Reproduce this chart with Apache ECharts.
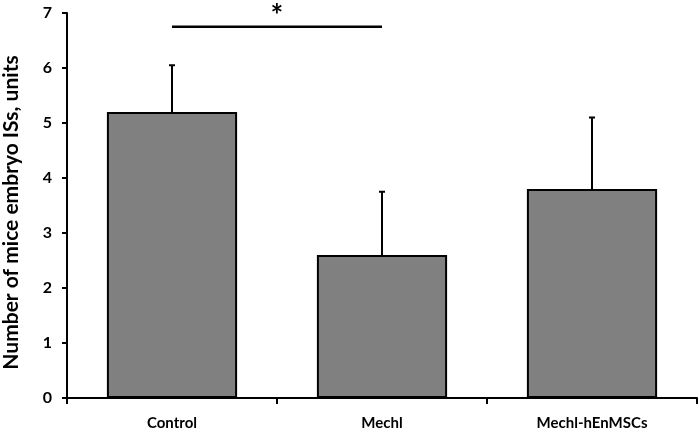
<!DOCTYPE html>
<html>
<head>
<meta charset="utf-8">
<script src="https://cdn.jsdelivr.net/npm/echarts@6/dist/echarts.min.js"></script>
<style>
  html, body { margin: 0; padding: 0; background: #fff; }
  #main { width: 699px; height: 433px; }
</style>
</head>
<body>
<div id="main"></div>
<script>
var categories = ['Control', 'Mechl', 'Mechl-hEnMSCs'];
var means = [5.2, 2.6, 3.8];
var errUpper = [6.05, 3.75, 5.1];   // top of the error bars
var yTicks = [0, 1, 2, 3, 4, 5, 6, 7];
// significance bar: from category, to category, height, mark
var sigFrom = ['Control'];
var sigTo = ['Mechl'];
var sigLevel = [6.75];
var sigText = ['*'];

var myChart = echarts.init(document.getElementById('main'));
var font = 'Lato, "Open Sans", sans-serif';

var errData = categories.map(function(c, i) { return [i, means[i], errUpper[i]]; });
var sigData = sigFrom.map(function(f, i) {
	return [categories.indexOf(f), categories.indexOf(sigTo[i]), sigLevel[i]];
});

option = {
	animation: false,
	grid: { left: 67, right: 2, top: 13, bottom: 35, outerBoundsMode: 'none' },
	xAxis: {
		type: 'category',
		data: categories,
		axisLine: { lineStyle: { color: '#000', width: 2 } },
		axisTick: { show: true, length: 6, lineStyle: { color: '#000', width: 2 } },
		axisLabel: { color: '#000', fontFamily: font, fontWeight: 'bold', fontSize: 15, margin: 18 }
	},
	yAxis: {
		type: 'value',
		min: yTicks[0],
		max: yTicks[yTicks.length - 1],
		interval: 1,
		name: 'Number of mice embryo ISs, units',
		nameLocation: 'middle',
		nameGap: 45,
		nameTextStyle: { color: '#000', fontFamily: font, fontWeight: 'bold', fontSize: 21, padding: [0, 14, 0, 0] },
		axisLine: { show: true, lineStyle: { color: '#000', width: 2 } },
		axisTick: { show: true, length: 5, lineStyle: { color: '#000', width: 2 } },
		axisLabel: { color: '#000', fontFamily: font, fontWeight: 'bold', fontSize: 16, margin: 15 },
		splitLine: { show: false }
	},
	series: [{
		type: 'bar',
		data: means,
		barWidth: '62%',
		itemStyle: { color: '#808080', borderColor: '#000', borderWidth: 2 },
		z: 2
	}, {
		type: 'custom',
		data: errData,
		z: 3,
		renderItem: function(params, api) {
			var base = api.coord([api.value(0), api.value(1)]);
			var top = api.coord([api.value(0), api.value(2)]);
			var st = { stroke: '#000', lineWidth: 2 };
			return {
				type: 'group',
				children: [
					{ type: 'line', shape: { x1: base[0], y1: base[1], x2: top[0], y2: top[1] }, style: st },
					{ type: 'line', shape: { x1: top[0] - 3, y1: top[1], x2: top[0] + 3, y2: top[1] }, style: st }
				]
			};
		}
	}, {
		type: 'custom',
		data: sigData,
		z: 3,
		renderItem: function(params, api) {
			var a = api.coord([api.value(0), api.value(2)]);
			var b = api.coord([api.value(1), api.value(2)]);
			return {
				type: 'group',
				children: [
					{ type: 'line', shape: { x1: a[0], y1: a[1], x2: b[0], y2: b[1] }, style: { stroke: '#000', lineWidth: 2.5 } },
					{ type: 'text', x: (a[0] + b[0]) / 2, y: a[1] + 5,
					  style: { text: sigText[params.dataIndex], fontSize: 30, fontWeight: 'bold', fontFamily: font,
					           fill: '#000', align: 'center', verticalAlign: 'bottom' } }
				]
			};
		}
	}]
};
myChart.setOption(option);
</script>
</body>
</html>
